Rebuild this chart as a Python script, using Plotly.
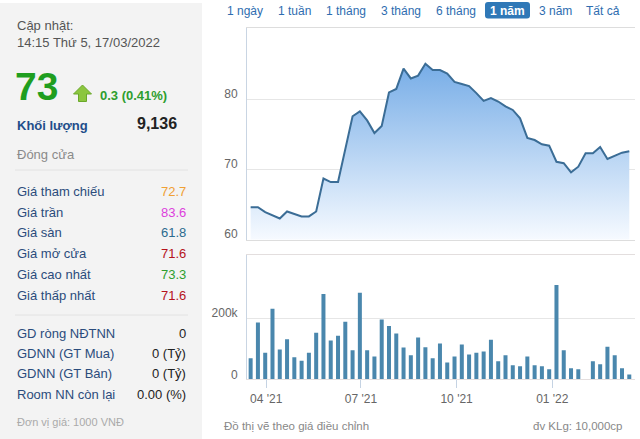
import plotly.graph_objects as go

# ---------------- data ----------------
dates = [
    "2021-03-17", "2021-03-24", "2021-03-31", "2021-04-07", "2021-04-14", "2021-04-21",
    "2021-04-28", "2021-05-05", "2021-05-12", "2021-05-19", "2021-05-26", "2021-06-02",
    "2021-06-09", "2021-06-16", "2021-06-23", "2021-06-30", "2021-07-07", "2021-07-14",
    "2021-07-21", "2021-07-28", "2021-08-04", "2021-08-11", "2021-08-18", "2021-08-25",
    "2021-09-01", "2021-09-08", "2021-09-15", "2021-09-22", "2021-09-29", "2021-10-06",
    "2021-10-13", "2021-10-20", "2021-10-27", "2021-11-03", "2021-11-10", "2021-11-17",
    "2021-11-24", "2021-12-01", "2021-12-08", "2021-12-15", "2021-12-22", "2021-12-29",
    "2022-01-05", "2022-01-12", "2022-01-19", "2022-01-26", "2022-02-02", "2022-02-09",
    "2022-02-16", "2022-02-23", "2022-03-02", "2022-03-09", "2022-03-16",
]
price = [
    64.6, 64.6, 63.9, 63.4, 63.0, 64.0, 63.7, 63.3, 63.3, 64.0,
    68.7, 68.2, 68.2, 72.9, 77.6, 78.3, 77.0, 75.2, 76.2, 81.0,
    81.5, 84.4, 83.0, 83.4, 85.1, 84.2, 84.2, 83.7, 82.5, 82.2,
    81.9, 80.9, 79.8, 80.2, 79.7, 79.0, 78.5, 77.3, 74.5, 74.2,
    73.6, 73.4, 71.1, 70.9, 69.6, 70.4, 72.3, 72.3, 73.2, 71.5,
    72.0, 72.4, 72.6,
]
volume = [
    69, 186, 87, 231, 98, 131, 72, 61, 87, 153,
    280, 127, 143, 189, 95, 284, 95, 75, 196, 175,
    150, 104, 79, 137, 105, 69, 117, 55, 75, 114,
    81, 87, 91, 130, 59, 79, 46, 43, 75, 46,
    43, 33, 309, 95, 36, 33, 0, 59, 49, 107,
    79, 36, 16,
]
volume = [v * 1000 for v in volume]

price_ticks = [60, 70, 80]
vol_ticks = [0, 200000]
vol_tick_text = ["0", "200k"]

range_buttons = ["1 ngày", "1 tuần", "1 tháng", "3 tháng", "6 tháng", "1 năm", "3 năm", "Tất cả"]
selected_button = "1 năm"

stat_labels = ["Giá tham chiếu", "Giá trần", "Giá sàn", "Giá mở cửa", "Giá cao nhất", "Giá thấp nhất"]
stat_values = ["72.7", "83.6", "61.8", "71.6", "73.3", "71.6"]
stat_colors = ["#f0a033", "#dd3fdd", "#2b6a8e", "#b5121b", "#2e9e2e", "#b5121b"]

foreign_labels = ["GD ròng NĐTNN", "GDNN (GT Mua)", "GDNN (GT Bán)", "Room NN còn lại"]
foreign_values = ["0", "0 (Tỷ)", "0 (Tỷ)", "0.00 (%)"]

# ---------------- helpers ----------------
W, H = 640, 439
FONT = "Arial, Liberation Sans, sans-serif"


def px(x):
    return x / W


def py(y):
    return 1 - y / H


annotations = []
shapes = []


def text(x, y, s, size=13, color="#333", anchor="left", bold=False):
    annotations.append(dict(
        x=px(x), y=py(y), xref="paper", yref="paper",
        text=f"<b>{s}</b>" if bold else s, showarrow=False,
        xanchor=anchor, yanchor="middle",
        font=dict(family=FONT, size=size, color=color),
    ))


# ---------------- left panel ----------------
shapes.append(dict(type="rect", xref="paper", yref="paper",
                   x0=px(0), x1=px(202), y0=py(439), y1=py(3),
                   fillcolor="#f3f3f3", line=dict(width=0), layer="below"))

text(15, 25, "Cập nhật:", 13, "#555")
text(15, 42, "14:15 Thứ 5, 17/03/2022", 13, "#555")
text(13, 86, "73", 39, "#1f9e1f", bold=True)

# green up arrow
arrow_pts = [(82.5, 85), (91.5, 94), (86.5, 94), (86.5, 101.5), (78.5, 101.5), (78.5, 94), (73.5, 94)]
path = "M " + " L ".join(f"{px(a)} {py(b)}" for a, b in arrow_pts) + " Z"
shapes.append(dict(type="path", xref="paper", yref="paper", path=path,
                   fillcolor="#8cc63f", line=dict(color="#6aa82a", width=1)))

text(98, 95.5, "0.3 (0.41%)", 13, "#2e9e2e", bold=True)
text(15, 126, "Khối lượng", 13, "#1f4d8a", bold=True)
text(179, 123.5, "9,136", 16, "#222", anchor="right", bold=True)
text(15, 154, "Đóng cửa", 13, "#8a8a8a")

shapes.append(dict(type="line", xref="paper", yref="paper",
                   x0=px(15), x1=px(188), y0=py(170), y1=py(170),
                   line=dict(color="#e2e2e2", width=1)))

row_y = [191.5, 212.2, 232.8, 253.8, 274.8, 295.5]
for lab, val, col, yy in zip(stat_labels, stat_values, stat_colors, row_y):
    text(15, yy, lab, 13, "#2b4c7c")
    text(188, yy, val, 13, col, anchor="right")

shapes.append(dict(type="line", xref="paper", yref="paper",
                   x0=px(15), x1=px(188), y0=py(315), y1=py(315),
                   line=dict(color="#e2e2e2", width=1)))

row_y2 = [333.2, 353.2, 373.8, 394.8]
for lab, val, yy in zip(foreign_labels, foreign_values, row_y2):
    text(15, yy, lab, 13, "#2b4c7c")
    text(188, yy, val, 13, "#222", anchor="right")

text(15, 422, "Đơn vị giá: 1000 VNĐ", 11, "#aaaaaa")

# ---------------- range buttons ----------------
button_centers = [245, 294.5, 346, 401, 456, 507.5, 555, 602.5]
for lab, cx in zip(range_buttons, button_centers):
    if lab == selected_button:
        x0, x1, y0, y1, r = 485, 530, 2, 18.5, 3
        p = (f"M {px(x0 + r)} {py(y0)} L {px(x1 - r)} {py(y0)} "
             f"Q {px(x1)} {py(y0)} {px(x1)} {py(y0 + r)} L {px(x1)} {py(y1 - r)} "
             f"Q {px(x1)} {py(y1)} {px(x1 - r)} {py(y1)} L {px(x0 + r)} {py(y1)} "
             f"Q {px(x0)} {py(y1)} {px(x0)} {py(y1 - r)} L {px(x0)} {py(y0 + r)} "
             f"Q {px(x0)} {py(y0)} {px(x0 + r)} {py(y0)} Z")
        shapes.append(dict(type="path", xref="paper", yref="paper", path=p,
                           fillcolor="#2f78b7", line=dict(width=0)))
        text(cx, 10.5, lab, 12, "#ffffff", anchor="center", bold=True)
    else:
        text(cx, 10.5, lab, 12, "#2e6db0", anchor="center")

# ---------------- bottom notes ----------------
text(222, 426, "Đồ thị vẽ theo giá điều chỉnh", 11.5, "#888")
text(625, 426, "đv KLg: 10,000cp", 11.5, "#888", anchor="right")

# ---------------- traces ----------------
fig = go.Figure()
fig.add_trace(go.Scatter(
    x=dates, y=price, mode="lines",
    line=dict(color="#3b6d96", width=2),
    fill="tozeroy",
    fillgradient=dict(type="vertical", start=60, stop=86,
                      colorscale=[[0, "#f6faff"], [1, "#72aae6"]]),
    xaxis="x", yaxis="y", hoverinfo="x+y", showlegend=False,
))
fig.add_trace(go.Bar(
    x=dates, y=volume, marker=dict(color="#4a87ad", line=dict(width=0)),
    xaxis="x2", yaxis="y2", showlegend=False,
))

xr = ["2021-03-13 12:00", "2022-03-21 12:00"]
axis_line = "#c9d5e3"
grid = "#e6e6e6"
tickfont = dict(family=FONT, size=12, color="#666")

fig.update_layout(
    width=W, height=H, autosize=False, margin=dict(l=0, r=0, t=0, b=0, pad=0),
    paper_bgcolor="white", plot_bgcolor="white",
    bargap=0.45,
    xaxis=dict(domain=[px(247), px(635)], range=xr, type="date", automargin=False,
               showticklabels=False, showgrid=False, ticks="",
               showline=True, linecolor="#dddddd", mirror=True,
               anchor="y", zeroline=False),
    yaxis=dict(domain=[py(239.5), py(28)], range=[60, 90.2], automargin=False,
               tickvals=price_ticks, showgrid=True, gridcolor=grid,
               showline=True, linecolor=axis_line, ticks="",
               ticklabelstandoff=6, ticklabelshift=-6,
               tickfont=tickfont, zeroline=False, anchor="x"),
    xaxis2=dict(domain=[px(247), px(635)], range=xr, type="date", automargin=False,
                tickformat="%m '%y", dtick="M3", tick0="2021-01-01",
                ticks="outside", ticklen=8, tickcolor="#c5d3e3",
                showgrid=False, showline=True, linecolor="#e3dede", mirror=True,
                tickfont=tickfont, anchor="y2", zeroline=False),
    yaxis2=dict(domain=[py(379.3), py(255)], range=[0, 407500], automargin=False,
                tickvals=vol_ticks, ticktext=vol_tick_text,
                showgrid=True, gridcolor=grid,
                showline=True, linecolor=axis_line, ticks="",
                ticklabelstandoff=6, ticklabelshift=-5,
                tickfont=tickfont, zeroline=False, anchor="x2"),
    annotations=annotations, shapes=shapes,
)

page_js = """
var s = document.createElement('style');
s.textContent = 'html,body{margin:0!important;padding:0!important;overflow:hidden;width:640px;height:439px;}';
document.head.appendChild(s);
"""

fig.write_html(
    "out.html",
    config={"displayModeBar": False},
    post_script=page_js,
)
